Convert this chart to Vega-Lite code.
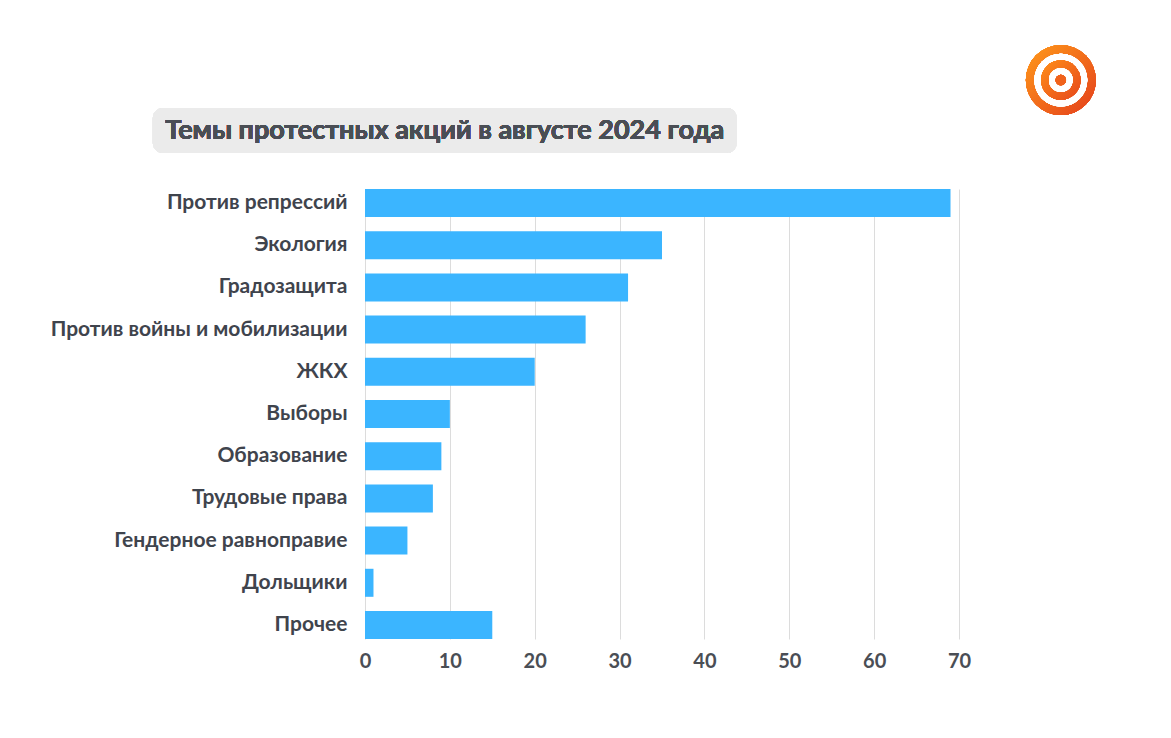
{
  "$schema": "https://vega.github.io/schema/vega-lite/v6.json",
  "background": "white",
  "padding": {"left": 50, "top": 45, "right": 5, "bottom": 5},
  "autosize": {"type": "pad"},
  "bounds": "flush",
  "align": "none",
  "spacing": 36,
  "data": {
    "values": [
      {"topic": "Против репрессий", "count": 69},
      {"topic": "Экология", "count": 35},
      {"topic": "Градозащита", "count": 31},
      {"topic": "Против войны и мобилизации", "count": 26},
      {"topic": "ЖКХ", "count": 20},
      {"topic": "Выборы", "count": 10},
      {"topic": "Образование", "count": 9},
      {"topic": "Трудовые права", "count": 8},
      {"topic": "Гендерное равноправие", "count": 5},
      {"topic": "Дольщики", "count": 1},
      {"topic": "Прочее", "count": 15}
    ]
  },
  "vconcat": [
    {
      "width": 594,
      "height": 45,
      "layer": [
        {
          "mark": {"type": "rect", "color": "#ebebeb", "cornerRadius": 10, "clip": false},
          "encoding": {
            "x": {"datum": -25, "type": "quantitative", "scale": {"domain": [0, 70], "nice": false}, "axis": null},
            "x2": {"datum": 43.8},
            "y": {"datum": 0, "type": "quantitative", "scale": {"domain": [0, 1], "nice": false}, "axis": null},
            "y2": {"datum": 1}
          }
        },
        {
          "mark": {"type": "text", "text": "Темы протестных акций в августе 2024 года", "font": "Lato", "fontSize": 27, "fontWeight": "bold", "color": "#4a4e55", "align": "center", "baseline": "middle"},
          "encoding": {
            "x": {"datum": 9.4, "type": "quantitative"},
            "y": {"datum": 0.5, "type": "quantitative"}
          }
        },
        {
          "mark": {"type": "point", "shape": "circle", "filled": true, "opacity": 1, "size": 4900,
            "color": {"gradient": "linear", "x1": 0, "y1": 0, "x2": 1, "y2": 1, "stops": [{"offset": 0, "color": "#ff9a1a"}, {"offset": 1, "color": "#e43f1c"}]}},
          "encoding": {"x": {"datum": 82, "type": "quantitative"}, "y": {"datum": 1.62, "type": "quantitative"}}
        },
        {
          "mark": {"type": "point", "shape": "circle", "filled": true, "opacity": 1, "size": 2800, "color": "#ffffff"},
          "encoding": {"x": {"datum": 82, "type": "quantitative"}, "y": {"datum": 1.62, "type": "quantitative"}}
        },
        {
          "mark": {"type": "point", "shape": "circle", "filled": true, "opacity": 1, "size": 1560,
            "color": {"gradient": "linear", "x1": 0, "y1": 0, "x2": 1, "y2": 1, "stops": [{"offset": 0, "color": "#ff8f1a"}, {"offset": 1, "color": "#e6481c"}]}},
          "encoding": {"x": {"datum": 82, "type": "quantitative"}, "y": {"datum": 1.62, "type": "quantitative"}}
        },
        {
          "mark": {"type": "point", "shape": "circle", "filled": true, "opacity": 1, "size": 560, "color": "#ffffff"},
          "encoding": {"x": {"datum": 82, "type": "quantitative"}, "y": {"datum": 1.62, "type": "quantitative"}}
        },
        {
          "mark": {"type": "point", "shape": "circle", "filled": true, "opacity": 1, "size": 110, "color": "#f0621b"},
          "encoding": {"x": {"datum": 82, "type": "quantitative"}, "y": {"datum": 1.62, "type": "quantitative"}}
        }
      ]
    },
    {
      "width": 594,
      "height": 450,
      "mark": {"type": "bar", "color": "#3bb5ff"},
      "encoding": {
        "y": {
          "field": "topic",
          "type": "nominal",
          "sort": null,
          "scale": {"paddingInner": 0.336, "paddingOuter": 0},
          "axis": {"title": null, "domain": false, "ticks": false, "labelPadding": 18, "labelFont": "Lato", "labelFontSize": 21, "labelFontWeight": "bold", "labelColor": "#3f444d", "labelLimit": 400}
        },
        "x": {
          "field": "count",
          "type": "quantitative",
          "scale": {"domain": [0, 70], "nice": false},
          "axis": {"title": null, "values": [0, 10, 20, 30, 40, 50, 60, 70], "domain": false, "ticks": false, "grid": true, "gridColor": "#dcdcdc", "labelPadding": 12, "labelFont": "Lato", "labelFontSize": 20, "labelFontWeight": "bold", "labelColor": "#4a4e55", "labelFlush": false}
        }
      }
    }
  ],
  "config": {"view": {"stroke": null}}
}
